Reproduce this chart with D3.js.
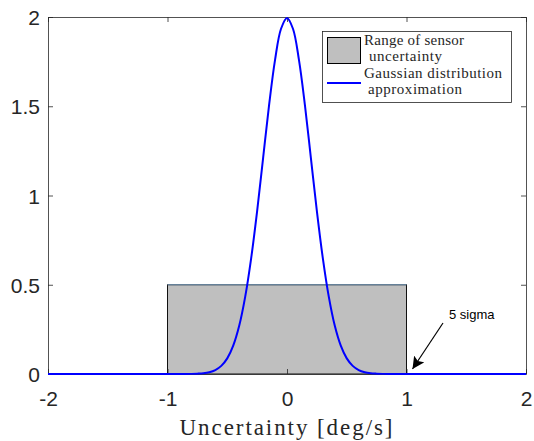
<!DOCTYPE html>
<html lang="en">
<head>
    <meta charset="UTF-8">
    <title>Sensor Uncertainty</title>
    <script src="https://d3js.org/d3.v7.min.js"></script>
    <style>
        body { margin: 0; background: #fff; font-family: "Liberation Sans", Arial, sans-serif; }
    </style>
</head>
<body>
    <svg id="chart" width="534" height="441"></svg>
    <script>
    // Uniform range of sensor uncertainty
    const rangeX = [-1, 1];
    const rangeY = 0.5;

    // Gaussian approximation, values
    const gaussX = [-2, -1, -0.95, -0.9, -0.85, -0.8, -0.75, -0.7, -0.65, -0.6, -0.55, -0.5, -0.45, -0.4, -0.35, -0.3, -0.25, -0.2, -0.15, -0.1, -0.05,
                    0, 0.05, 0.1, 0.15, 0.2, 0.25, 0.3, 0.35, 0.4, 0.45, 0.5, 0.55, 0.6, 0.65, 0.7, 0.75, 0.8, 0.85, 0.9, 0.95, 1, 2];
    const gaussY = [0, 0, 0, 0, 0, 0.0007, 0.002, 0.0044, 0.0102, 0.0222, 0.0455, 0.0876, 0.159, 0.27, 0.432, 0.648, 0.913, 1.21, 1.506, 1.76, 1.934,
                    1.995, 1.934, 1.76, 1.506, 1.21, 0.913, 0.648, 0.432, 0.27, 0.159, 0.0876, 0.0455, 0.0222, 0.0102, 0.0044, 0.002, 0.0007, 0, 0, 0, 0, 0];

    const xTicks = [-2, -1, 0, 1, 2];
    const yTicks = [0, 0.5, 1, 1.5, 2];

    const svg = d3.select("#chart");
    const mLeft = 48, mRight = 526, mTop = 17, mBottom = 374;

    const x = d3.scaleLinear().domain([-2, 2]).range([mLeft, mRight]);
    const y = d3.scaleLinear().domain([0, 2]).range([mBottom, mTop]);

    const axisColor = "#262626";
    const fmt = d => String(d);

    // uniform range box
    svg.append("rect")
        .attr("x", x(rangeX[0]))
        .attr("y", y(rangeY))
        .attr("width", x(rangeX[1]) - x(rangeX[0]))
        .attr("height", y(0) - y(rangeY))
        .style("fill", "#bfbfbf")
        .style("stroke", "#111")
        .style("stroke-width", 1);
    svg.append("line")
        .attr("x1", x(rangeX[0])).attr("x2", x(rangeX[1]))
        .attr("y1", y(rangeY)).attr("y2", y(rangeY))
        .style("stroke", "#6f93b3").style("stroke-width", 1.2);

    // axes (box with inward ticks)
    const tickLen = 5;
    const xAxisB = d3.axisBottom(x).tickValues(xTicks).tickFormat(fmt).tickSizeInner(-tickLen).tickSizeOuter(0).tickPadding(17);
    const xAxisT = d3.axisTop(x).tickValues(xTicks).tickSizeInner(-tickLen).tickSizeOuter(0).tickFormat("");
    const yAxisL = d3.axisLeft(y).tickValues(yTicks).tickFormat(fmt).tickSizeInner(-tickLen).tickSizeOuter(0).tickPadding(8);
    const yAxisR = d3.axisRight(y).tickValues(yTicks).tickSizeInner(-tickLen).tickSizeOuter(0).tickFormat("");

    const gxB = svg.append("g").attr("transform", `translate(0,${mBottom})`).call(xAxisB);
    const gxT = svg.append("g").attr("transform", `translate(0,${mTop})`).call(xAxisT);
    const gyL = svg.append("g").attr("transform", `translate(${mLeft},0)`).call(yAxisL);
    const gyR = svg.append("g").attr("transform", `translate(${mRight},0)`).call(yAxisR);

    [gxB, gxT, gyL, gyR].forEach(g => {
        g.select(".domain").style("stroke", axisColor).style("stroke-width", 0.8);
        g.selectAll(".tick line").style("stroke", axisColor).style("stroke-width", 0.8);
        g.selectAll(".tick text")
            .style("font-family", "'Liberation Sans', Arial, sans-serif")
            .style("font-size", "21px")
            .style("fill", "#262626");
    });
    gyL.selectAll(".tick text").attr("dy", "0.36em");

    // gaussian curve
    const pts = gaussX.map((v, i) => [v, gaussY[i]]);
    svg.append("path")
        .datum(pts)
        .attr("d", d3.line().x(d => x(d[0])).y(d => y(d[1])).curve(d3.curveCatmullRom.alpha(0.5)))
        .style("fill", "none")
        .style("stroke", "#0000ff")
        .style("stroke-width", 2);

    // annotation arrow
    const defs = svg.append("defs");
    defs.append("marker")
        .attr("id", "arrow")
        .attr("viewBox", "0 0 10 10")
        .attr("refX", 10).attr("refY", 5)
        .attr("markerWidth", 12).attr("markerHeight", 12)
        .attr("markerUnits", "userSpaceOnUse")
        .attr("orient", "auto")
        .append("path")
        .attr("d", "M0,0 L10,5 L0,10 L2,5 Z")
        .style("fill", "#000");

    svg.append("line")
        .attr("x1", 443).attr("y1", 323)
        .attr("x2", x(1) + 6).attr("y2", y(0) - 5)
        .style("stroke", "#000").style("stroke-width", 1.2)
        .attr("marker-end", "url(#arrow)");

    svg.append("text")
        .text("5 sigma")
        .attr("x", 449).attr("y", 319)
        .style("font-size", "13px")
        .style("font-family", "'Liberation Sans', Arial, sans-serif");

    // x label
    svg.append("text")
        .text("Uncertainty [deg/s]")
        .attr("x", 286).attr("y", 435)
        .attr("text-anchor", "middle")
        .attr("textLength", 213)
        .style("font-family", "'Liberation Serif', 'DejaVu Serif', serif")
        .style("font-size", "23px")
        .style("fill", "#262626");

    // legend
    const lg = svg.append("g");
    lg.append("rect")
        .attr("x", 322.5).attr("y", 31.5).attr("width", 189).attr("height", 71)
        .style("fill", "#fff").style("stroke", axisColor).style("stroke-width", 0.8);
    lg.append("rect")
        .attr("x", 327.5).attr("y", 37.5).attr("width", 33).attr("height", 26)
        .style("fill", "#bfbfbf").style("stroke", "#000").style("stroke-width", 1);
    lg.append("line")
        .attr("x1", 327).attr("x2", 361).attr("y1", 83).attr("y2", 83)
        .style("stroke", "#0000ff").style("stroke-width", 2);

    const legendText = [
        ["Range of sensor", 364, 45, 100],
        ["uncertainty", 369, 61, 73],
        ["Gaussian distribution", 364, 78, 138],
        ["approximation", 368, 94, 94]
    ];
    legendText.forEach(t => {
        lg.append("text")
            .text(t[0])
            .attr("x", t[1]).attr("y", t[2])
            .attr("textLength", t[3])
            .style("font-family", "'Liberation Serif', 'DejaVu Serif', serif")
            .style("font-size", "15px")
            .style("fill", "#262626");
    });
    </script>
</body>
</html>
